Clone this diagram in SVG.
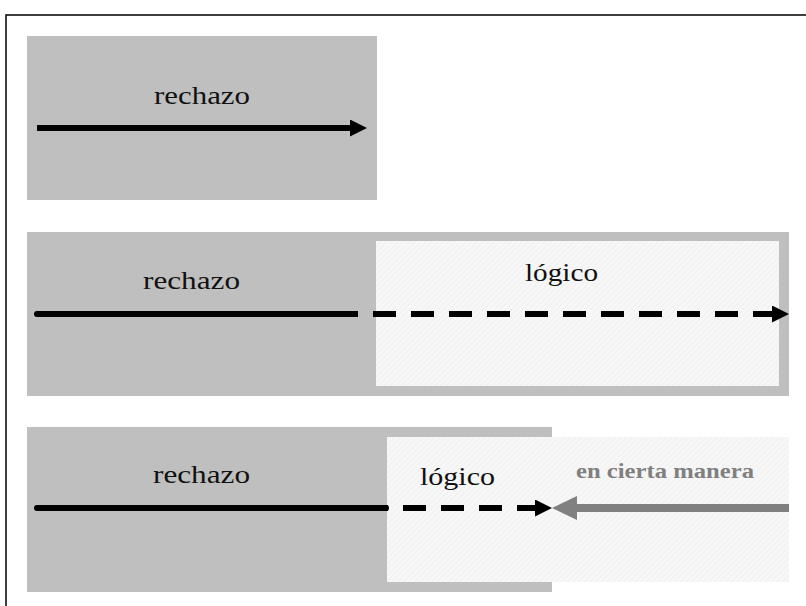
<svg xmlns="http://www.w3.org/2000/svg" width="806" height="606" viewBox="0 0 806 606">
<style>
.bg{fill:#BFBFBF}
.lt{fill:url(#hatch)}
.lbl{font-family:"Liberation Serif",serif;font-size:26px;fill:#111}
.lbl2{font-family:"Liberation Serif",serif;font-size:20px;font-weight:bold;fill:#808080}
.solid{stroke:#000;stroke-width:6;fill:none}
.dash{stroke:#000;stroke-width:6;fill:none;stroke-dasharray:23 15}
.grey{stroke:#808080;stroke-width:8;fill:none}
</style>
<defs>
<pattern id="hatch" width="4" height="4" patternUnits="userSpaceOnUse" patternTransform="rotate(45)">
<rect width="4" height="4" fill="#F7F7F7"/>
<line x1="0" y1="0" x2="0" y2="4" stroke="#EAEAEA" stroke-width="1"/>
</pattern>
<marker id="ahB" markerUnits="userSpaceOnUse" viewBox="0 0 17 17" refX="0" refY="8.5" markerWidth="17" markerHeight="17" orient="auto">
<path d="M0,0 L17,8.5 L0,17 z" fill="#000"/>
</marker>
<marker id="ahG" markerUnits="userSpaceOnUse" viewBox="0 0 25 24" refX="0" refY="12" markerWidth="25" markerHeight="24" orient="auto">
<path d="M0,0 L25,12 L0,24 z" fill="#808080"/>
</marker>
</defs>
<rect width="806" height="606" fill="#fff"/>
<path d="M6,606 V15 H806" fill="none" stroke="#000" stroke-width="1.5"/>
<g id="panel1">
<rect class="bg" x="27" y="36" width="350" height="164"/>
<text class="lbl" x="154" y="104" textLength="96" lengthAdjust="spacingAndGlyphs">rechazo</text>
</g>
<g id="panel2">
<rect class="bg" x="27" y="232" width="762" height="164"/>
<rect class="lt" x="376" y="241" width="403" height="145"/>
<text class="lbl" x="143" y="289" textLength="97" lengthAdjust="spacingAndGlyphs">rechazo</text>
<text class="lbl" x="525" y="281" textLength="73" lengthAdjust="spacingAndGlyphs">lógico</text>
</g>
<g id="panel3">
<rect class="bg" x="27" y="427" width="525" height="165"/>
<rect class="lt" x="387" y="437" width="402" height="145"/>
<text class="lbl" x="153" y="483" textLength="97" lengthAdjust="spacingAndGlyphs">rechazo</text>
<text class="lbl" x="420" y="485" textLength="75" lengthAdjust="spacingAndGlyphs">lógico</text>
<text class="lbl2" x="576" y="478" textLength="178" lengthAdjust="spacingAndGlyphs">en cierta manera</text>
</g>
<g id="connectors">
<line class="solid" x1="37" y1="128" x2="350" y2="128" marker-end="url(#ahB)"/>
<line class="solid" x1="37" y1="314" x2="336" y2="314" stroke-linecap="round"/>
<line class="dash" x1="335" y1="314" x2="772" y2="314" marker-end="url(#ahB)"/>
<line class="solid" x1="37" y1="508" x2="386" y2="508" stroke-linecap="round"/>
<line class="dash" x1="365" y1="508" x2="535" y2="508" marker-end="url(#ahB)"/>
<line class="grey" x1="789" y1="508" x2="577" y2="508" marker-end="url(#ahG)"/>
</g>
</svg>
